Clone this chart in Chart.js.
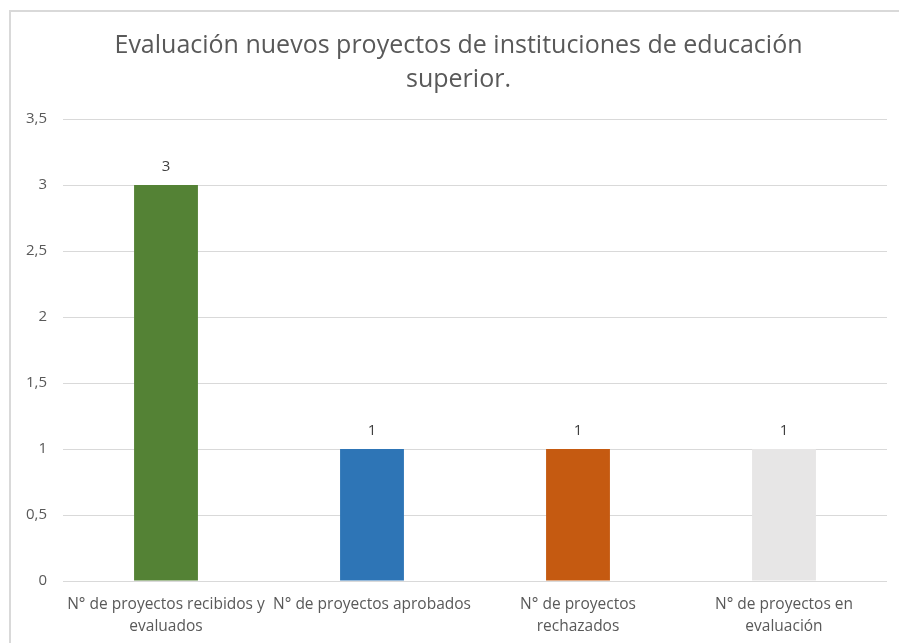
<!DOCTYPE html>
<html>
<head>
<meta charset="utf-8">
<script src="https://cdn.jsdelivr.net/npm/chart.js@4.4.1/dist/chart.umd.min.js"></script>
<style>
  html, body { margin: 0; padding: 0; background: #fff; overflow: hidden; }
  #wrap { position: relative; width: 899px; height: 643px; }
  #frame {
    position: absolute; left: 9px; top: 10px; width: 900px; height: 700px;
    border-left: 2px solid #d9d9d9; border-top: 2px solid #d9d9d9;
    pointer-events: none;
  }
  canvas { position: absolute; left: 0; top: 0; }
</style>
</head>
<body>
<div id="wrap">
  <canvas id="chart" width="899" height="643"></canvas>
  <div id="frame"></div>
</div>
<script>
const titleLines = ["Evaluación nuevos proyectos de instituciones de educación", "superior."];
const categories = [
  ["N° de proyectos recibidos y", "evaluados"],
  "N° de proyectos aprobados",
  ["N° de proyectos", "rechazados"],
  ["N° de proyectos en", "evaluación"]
];
const values = [3, 1, 1, 1];
const barColors = ["#548235", "#2e75b6", "#c55a11", "#e7e6e6"];
const yTicks = [0, 0.5, 1, 1.5, 2, 2.5, 3, 3.5];
const yTickLabels = ["0", "0,5", "1", "1,5", "2", "2,5", "3", "3,5"];

const FONT = '"Open Sans", sans-serif';

// value labels above the bars
const barLabels = {
  id: "barLabels",
  afterDatasetsDraw(chart) {
    const ctx = chart.ctx;
    const meta = chart.getDatasetMeta(0);
    ctx.save();
    ctx.font = "15px " + FONT;
    ctx.fillStyle = "#404040";
    ctx.textAlign = "center";
    ctx.textBaseline = "alphabetic";
    meta.data.forEach((bar, i) => {
      ctx.fillText(String(values[i]), bar.x, bar.y - 14);
    });
    ctx.restore();
  }
};

// the title in the reference sits a bit right of the canvas centre
const shiftTitle = {
  id: "shiftTitle",
  afterLayout(chart) {
    if (chart.titleBlock) {
      chart.titleBlock.left += 20;
      chart.titleBlock.right += 0;
    }
  }
};

new Chart(document.getElementById("chart"), {
  type: "bar",
  data: {
    labels: categories,
    datasets: [{
      data: values,
      backgroundColor: barColors,
      borderWidth: 0,
      barPercentage: 0.31,
      categoryPercentage: 1
    }]
  },
  options: {
    responsive: false,
    animation: false,
    layout: { padding: { top: 29, left: 10, right: 12, bottom: 5 } },
    plugins: {
      legend: { display: false },
      tooltip: { enabled: false },
      title: {
        display: true,
        text: titleLines,
        color: "#595959",
        font: { family: FONT, size: 25, weight: "normal", lineHeight: 1.36 },
        padding: { top: 0, bottom: 22 }
      }
    },
    scales: {
      x: {
        afterFit(scale) { scale.height = 57; },
        grid: { display: false, drawTicks: false },
        border: { display: false },
        ticks: {
          color: "#595959",
          font: { family: FONT, size: 15.5, lineHeight: 1.42 },
          padding: 13,
          maxRotation: 0,
          autoSkip: false
        }
      },
      y: {
        min: 0,
        max: 3.5,
        afterBuildTicks(scale) {
          scale.ticks = yTicks.map(v => ({ value: v }));
        },
        afterFit(scale) { scale.width = 53; },
        grid: { color: "#d9d9d9", drawTicks: false },
        border: { display: false },
        ticks: {
          color: "#595959",
          font: { family: FONT, size: 15 },
          padding: 16,
          callback: (v) => yTickLabels[yTicks.indexOf(v)]
        }
      }
    }
  },
  plugins: [barLabels, shiftTitle]
});
</script>
</body>
</html>
